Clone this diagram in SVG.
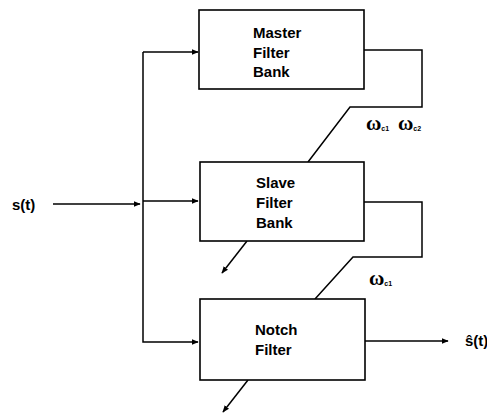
<svg xmlns="http://www.w3.org/2000/svg" width="487" height="414" viewBox="0 0 487 414">
<defs>
<marker id="ah" viewBox="0 0 10 10" refX="9" refY="5" markerWidth="7" markerHeight="7" markerUnits="userSpaceOnUse" orient="auto">
<path d="M0,1 L10,5 L0,9 Z" fill="#000"/>
</marker>
<style>
.box{fill:#fff;stroke:#000;stroke-width:1.6}
.ln{fill:none;stroke:#000;stroke-width:1.5}
.t{font-family:"Liberation Sans",Arial,sans-serif;font-size:15px;font-weight:bold;fill:#000}
.w{font-family:"Liberation Serif","DejaVu Serif",serif;font-size:21px;font-weight:bold;fill:#000}
.s{font-family:"Liberation Sans",Arial,sans-serif;font-size:7px;font-weight:bold;fill:#000}
</style>
</defs>
<rect width="487" height="414" fill="#fff"/>
<g id="connectors">
<line class="ln" x1="53" y1="204" x2="140" y2="204" marker-end="url(#ah)"/>
<polyline class="ln" points="143,52 143,342 198,342" marker-end="url(#ah)"/>
<line class="ln" x1="143" y1="52" x2="198" y2="52" marker-end="url(#ah)"/>
<line class="ln" x1="143" y1="201" x2="198" y2="201" marker-end="url(#ah)"/>
<polyline class="ln" points="364,50 422,50 422,107 350,107 308,162"/>
<polyline class="ln" points="364,202 422,202 422,257 353,257 315,299"/>
<line class="ln" x1="247" y1="241" x2="222" y2="273" marker-end="url(#ah)"/>
<line class="ln" x1="248" y1="380" x2="223" y2="412" marker-end="url(#ah)"/>
<line class="ln" x1="365" y1="341" x2="448" y2="341" marker-end="url(#ah)"/>
</g>
<g id="master">
<rect class="box" x="199" y="10" width="165" height="79"/>
<text class="t" x="253" y="38">Master</text>
<text class="t" x="253" y="57.5">Filter</text>
<text class="t" x="253" y="77">Bank</text>
</g>
<g id="slave">
<rect class="box" x="200" y="162" width="164" height="79"/>
<text class="t" x="256" y="188">Slave</text>
<text class="t" x="256" y="208">Filter</text>
<text class="t" x="256" y="228">Bank</text>
</g>
<g id="notch">
<rect class="box" x="200" y="299" width="165" height="81"/>
<text class="t" x="255" y="335">Notch</text>
<text class="t" x="255" y="355">Filter</text>
</g>
<g id="labels">
<text class="t" x="12" y="210">s(t)</text>
<text class="t" x="465" y="346">ŝ(t)</text>
<text x="366" y="130"><tspan class="w">ω</tspan><tspan class="s" dy="1">c1</tspan></text>
<text x="398" y="130"><tspan class="w">ω</tspan><tspan class="s" dy="1">c2</tspan></text>
<text x="369" y="285"><tspan class="w">ω</tspan><tspan class="s" dy="1">c1</tspan></text>
</g>
</svg>
